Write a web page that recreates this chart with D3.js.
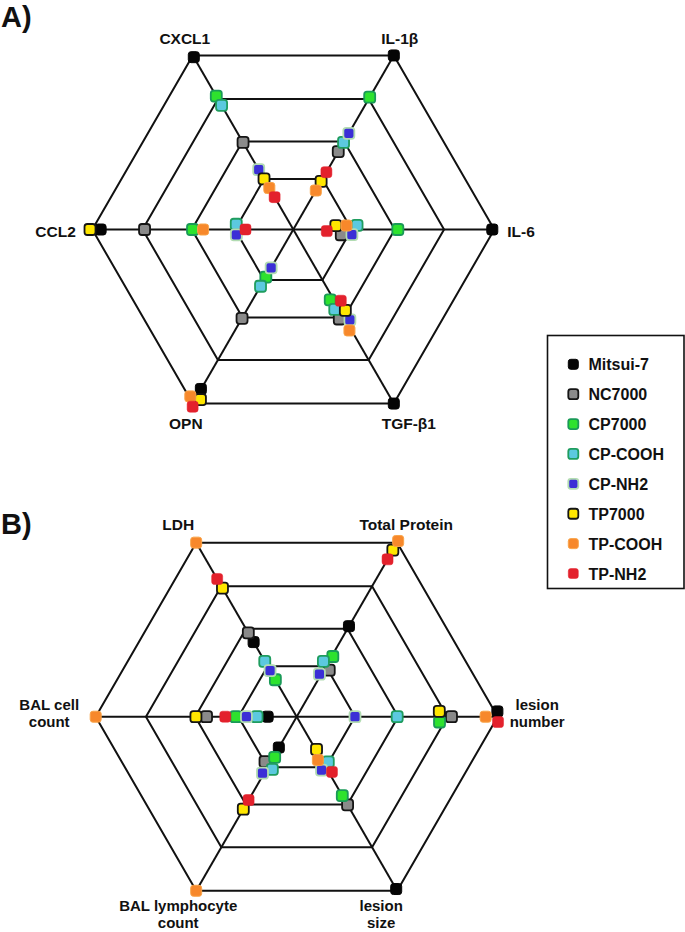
<!DOCTYPE html>
<html><head><meta charset="utf-8">
<script src="https://cdn.jsdelivr.net/npm/d3@7"></script>
<style>
body{margin:0;background:#fff}
svg{display:block}
text{font-family:"Liberation Sans",Arial,Helvetica,sans-serif;font-weight:bold;fill:#111}
</style>
</head><body>
<svg id="c" width="685" height="932"></svg>
<script>
// ---------- DATA ----------
const series = ["Mitsui-7","NC7000","CP7000","CP-COOH","CP-NH2","TP7000","TP-COOH","TP-NH2"];
const ringLevels = [0.29, 0.505, 0.75, 1];

// Chart A axes, counter-clockwise from the right (0°, 60°, ...)
const axesA = ["IL-6","IL-1β","CXCL1","CCL2","OPN","TGF-β1"];
const valuesA_Mitsui7 = [0.99, 1.00, 0.99, 0.97, 0.92, 1.00];
const valuesA_NC7000  = [0.25, 0.46, 0.50, 0.74, 0.51, 0.50];
const valuesA_CP7000  = [0.52, 0.76, 0.75, 0.48, 0.27, 0.41];
const valuesA_CPCOOH  = [0.30, 0.51, 0.73, 0.28, 0.31, 0.45];
const valuesA_CPNH2   = [0.29, 0.53, 0.32, 0.28, 0.24, 0.50];
const valuesA_TP7000  = [0.22, 0.29, 0.28, 1.00, 0.97, 0.49];
const valuesA_TPCOOH  = [0.25, 0.24, 0.25, 0.47, 0.98, 0.56];
const valuesA_TPNH2   = [0.18, 0.30, 0.21, 0.245, 1.00, 0.44];

// Chart B axes
const axesB = ["lesion number","Total Protein","LDH","BAL cell count","BAL lymphocyte count","lesion size"];
const labelLinesB = [["lesion","number"],["Total Protein"],["LDH"],["BAL cell","count"],["BAL lymphocyte","count"],["lesion","size"]];
const valuesB_Mitsui7 = [1.00, 0.52, 0.43, 0.175, 0.18, 0.99];
const valuesB_NC7000  = [0.77, 0.28, 0.48, 0.47, 0.27, 0.49];
const valuesB_CP7000  = [0.71, 0.34, 0.235, 0.295, 0.235, 0.47];
const valuesB_CPCOOH  = [0.50, 0.305, 0.29, 0.23, 0.29, 0.27];
const valuesB_CPNH2   = [0.29, 0.25, 0.27, 0.24, 0.32, 0.30];
const valuesB_TP7000  = [0.71, 0.96, 0.75, 0.48, 0.53, 0.20];
const valuesB_TPCOOH  = [0.94, 0.99, 1.00, 1.00, 1.00, 0.24];
const valuesB_TPNH2   = [1.00, 0.92, 0.78, 0.31, 0.48, 0.31];

const valuesA = [valuesA_Mitsui7,valuesA_NC7000,valuesA_CP7000,valuesA_CPCOOH,valuesA_CPNH2,valuesA_TP7000,valuesA_TPCOOH,valuesA_TPNH2];
const valuesB = [valuesB_Mitsui7,valuesB_NC7000,valuesB_CP7000,valuesB_CPCOOH,valuesB_CPNH2,valuesB_TP7000,valuesB_TPCOOH,valuesB_TPNH2];

// ---------- STYLE ----------
const styles = {
  "Mitsui-7": {fill:"#050505", stroke:"#050505", sw:1},
  "NC7000":   {fill:"#8a8a8a", stroke:"#151515", sw:1.8},
  "CP7000":   {fill:"#2ee22e", stroke:"#1a9a58", sw:1.8},
  "CP-COOH":  {fill:"#5cc9df", stroke:"#1f9d5f", sw:1.8},
  "CP-NH2":   {fill:"#3b2fd6", stroke:"#b2dcb2", sw:1.8},
  "TP7000":   {fill:"#ffe600", stroke:"#151515", sw:1.8},
  "TP-COOH":  {fill:"#f7882b", stroke:"#f9a449", sw:1},
  "TP-NH2":   {fill:"#e3212c", stroke:"#e3212c", sw:0.5}
};

const svg = d3.select("#c");
const R = 201;
const r = d3.scaleLinear().domain([0,1]).range([0,R]);
const angle = d3.scaleLinear().domain([0,6]).range([0, 2*Math.PI]); // ccw from east

function drawRadar(cx, cy, axes, values, labelCfg){
  const g = svg.append("g").attr("transform",`translate(${cx},${cy})`);
  const pt = (i,v)=>[r(v)*Math.cos(angle(i)), -r(v)*Math.sin(angle(i))];
  const ring = d3.lineRadial().curve(d3.curveLinearClosed)
      .angle((d,i)=>Math.PI/2 - angle(i)).radius(d=>r(d));
  ringLevels.forEach(lv=>{
    g.append("path").attr("d", ring(axes.map(()=>lv)))
      .attr("fill","none").attr("stroke","#111").attr("stroke-width",2);
  });
  axes.forEach((a,i)=>{
    const p = pt(i,1);
    g.append("line").attr("x1",0).attr("y1",0).attr("x2",p[0]).attr("y2",p[1])
      .attr("stroke","#111").attr("stroke-width",2);
  });
  const nodes = [];
  series.forEach((s,si)=>{
    axes.forEach((a,ai)=>{
      const p = pt(ai, values[si][ai]);
      nodes.push({s, si, ai, tx:p[0], ty:p[1], x:p[0], y:p[1]});
    });
  });
  const sim = d3.forceSimulation(nodes)
    .force("x", d3.forceX(d=>d.tx).strength(0.45))
    .force("y", d3.forceY(d=>d.ty).strength(0.45))
    .force("c", d3.forceCollide(5.3).iterations(3))
    .stop();
  for(let k=0;k<300;k++) sim.tick();
  const sz = 11;
  g.selectAll("rect.m").data(nodes).join("rect").attr("class","m")
    .attr("x",d=>d.x-sz/2).attr("y",d=>d.y-sz/2)
    .attr("width",sz).attr("height",sz).attr("rx",2.8)
    .attr("fill",d=>styles[d.s].fill).attr("stroke",d=>styles[d.s].stroke)
    .attr("stroke-width",d=>styles[d.s].sw);
  axes.forEach((a,i)=>{
    const p = pt(i,1);
    const c = labelCfg[i];
    const fs = c.lines.length > 1 ? 15 : 15.5;
    c.lines.forEach((ln,k)=>{
      g.append("text").attr("text-anchor",c.anchor).attr("font-size",fs)
        .attr("x",p[0]+c.dx).attr("y",p[1]+c.dy+k*17).text(ln);
    });
  });
}

drawRadar(293.3, 229.5, axesA, valuesA, [
  {anchor:"start", dx:13, dy:7.5, lines:[axesA[0]]},
  {anchor:"middle", dx:6, dy:-11, lines:[axesA[1]]},
  {anchor:"middle", dx:-8, dy:-11, lines:[axesA[2]]},
  {anchor:"end", dx:-16.5, dy:7.5, lines:[axesA[3]]},
  {anchor:"middle", dx:-7, dy:25.5, lines:[axesA[4]]},
  {anchor:"middle", dx:15, dy:25.5, lines:[axesA[5]]}
]);

drawRadar(296.7, 716.7, axesB, valuesB, [
  {anchor:"middle", dx:39.5, dy:-7.2, lines:labelLinesB[0]},
  {anchor:"middle", dx:9, dy:-13, lines:labelLinesB[1]},
  {anchor:"middle", dx:-18, dy:-13, lines:labelLinesB[2]},
  {anchor:"middle", dx:-46.5, dy:-7.2, lines:labelLinesB[3]},
  {anchor:"middle", dx:-18, dy:20.7, lines:labelLinesB[4]},
  {anchor:"middle", dx:-16, dy:20.7, lines:labelLinesB[5]}
]);

// panel letters
svg.append("text").attr("x",1).attr("y",26.5).attr("font-size",29).text("A)");
svg.append("text").attr("x",1).attr("y",533.5).attr("font-size",29).text("B)");

// legend
const lg = svg.append("g");
lg.append("rect").attr("x",547.5).attr("y",335.5).attr("width",136.5).attr("height",253)
  .attr("fill","#fff").attr("stroke","#111").attr("stroke-width",1.6);
const ly = d3.scalePoint().domain(series).range([364.3, 573.5]);
series.forEach(s=>{
  lg.append("rect").attr("x",573.3-5).attr("y",ly(s)-5).attr("width",10).attr("height",10)
    .attr("rx",2.5).attr("fill",styles[s].fill).attr("stroke",styles[s].stroke)
    .attr("stroke-width",styles[s].sw);
  lg.append("text").attr("x",588.5).attr("y",ly(s)+6).attr("font-size",16).text(s);
});
</script>
</body></html>
